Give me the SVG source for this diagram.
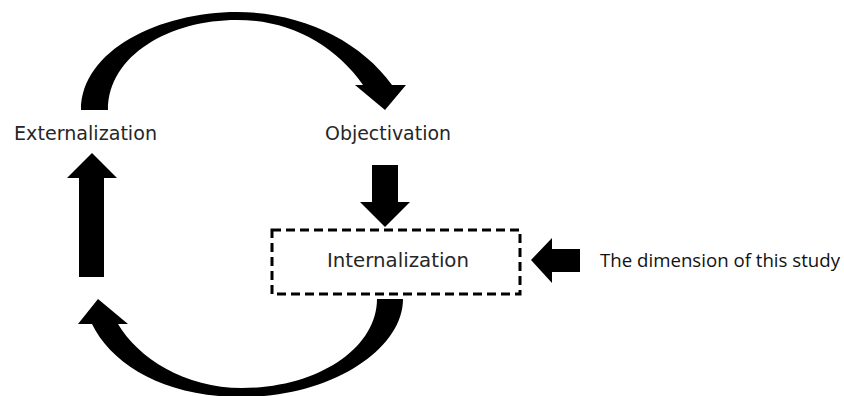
<svg xmlns="http://www.w3.org/2000/svg" width="844" height="396" viewBox="0 0 844 396">
  <style>
    .lbl { font-family: "DejaVu Sans", Verdana, sans-serif; font-size: 19px; fill: #262626; }
    .note { font-family: "Open Sans", "Noto Sans", "Liberation Sans", sans-serif; font-size: 19px; fill: #111; }
    .arrow { fill: #000; stroke: none; }
    .box { fill: none; stroke: #000; stroke-width: 3; stroke-dasharray: 9 5; }
  </style>
  <rect width="844" height="396" fill="#fff"/>

  <g id="connectors">
    <!-- top arc: Externalization -> Objectivation -->
    <path class="arrow" d="M 81 110 C 81 50 160 12 237 12 C 300 12 360 40 392 85 L 406 85 L 385 110 L 355 85 L 363 85 C 335 45 290 20 237 20 C 170 20 108 55 108 110 Z"/>
    <!-- Objectivation -> Internalization -->
    <path class="arrow" d="M 372 165 L 398 165 L 398 202 L 410 202 L 385 227 L 360 202 L 372 202 Z"/>
    <!-- bottom arc: Internalization -> Externalization -->
    <path class="arrow" d="M 403 299 C 403 350 330 397 242 397 C 165 397 112 365 92 324 L 78 324 L 98 299 L 128 324 L 118 324 C 138 358 185 388 242 388 C 318 388 377 348 377 299 Z"/>
    <!-- up arrow to Externalization -->
    <path class="arrow" d="M 79 277 L 104 277 L 104 178 L 117 178 L 92 153 L 67 178 L 79 178 Z"/>
    <!-- study pointer -->
    <path class="arrow" d="M 580 249 L 580 272 L 552 272 L 552 283 L 531 260 L 552 238 L 552 249 Z"/>
  </g>

  <g id="externalization">
    <text class="lbl" x="14" y="140" textLength="143" lengthAdjust="spacingAndGlyphs">Externalization</text>
  </g>
  <g id="objectivation">
    <text class="lbl" x="325" y="140" textLength="126" lengthAdjust="spacingAndGlyphs">Objectivation</text>
  </g>
  <g id="internalization">
    <rect class="box" x="272" y="230" width="248" height="64"/>
    <text class="lbl" x="327" y="267" textLength="142" lengthAdjust="spacingAndGlyphs">Internalization</text>
  </g>
  <g id="study-note">
    <text class="note" x="600" y="267" textLength="240" lengthAdjust="spacingAndGlyphs">The dimension of this study</text>
  </g>
</svg>
